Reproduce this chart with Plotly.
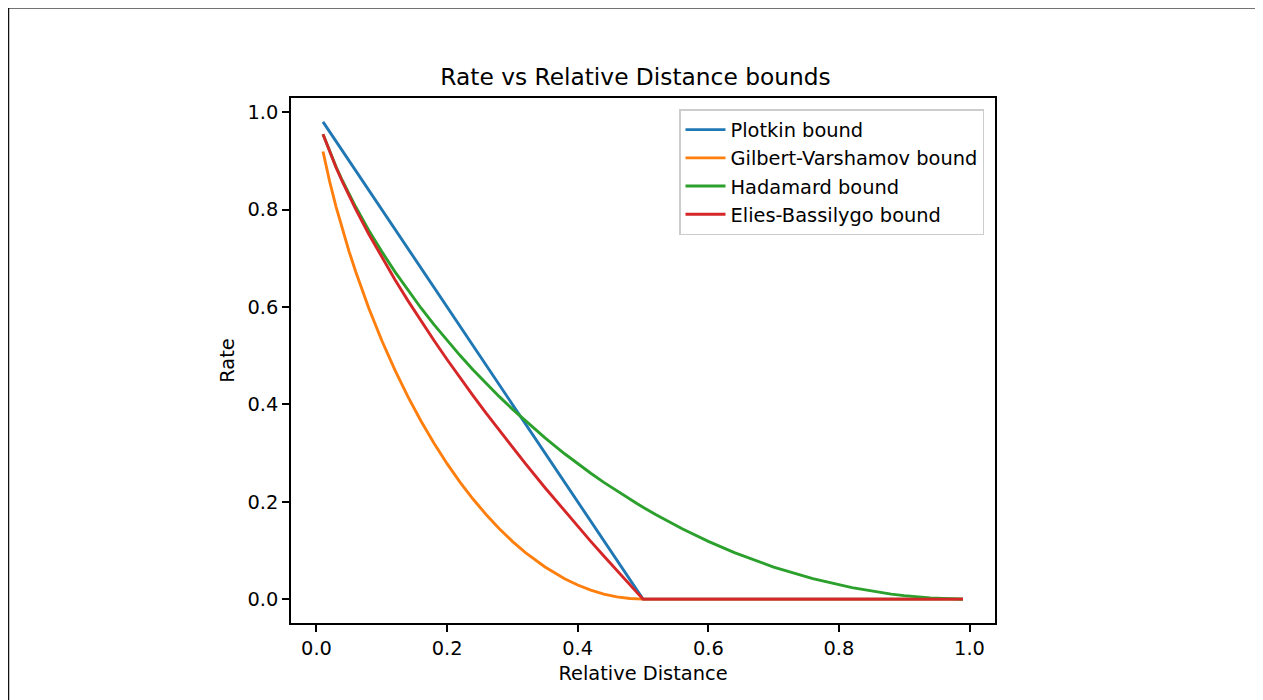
import plotly.graph_objects as go

# Relative distance (x) values
distance = [0.01, 0.02, 0.03, 0.04, 0.05, 0.06, 0.08, 0.10, 0.12, 0.14, 0.16, 0.18, 0.20,
            0.22, 0.24, 0.26, 0.28, 0.30, 0.32, 0.35, 0.38, 0.40, 0.42, 0.44, 0.46, 0.48,
            0.49, 0.50, 0.52, 0.56, 0.60, 0.64, 0.70, 0.76, 0.80, 0.82, 0.88, 0.90, 0.94, 0.99]

plotkin = [0.98, 0.96, 0.94, 0.92, 0.90, 0.88, 0.84, 0.80, 0.76, 0.72, 0.68, 0.64, 0.60,
           0.56, 0.52, 0.48, 0.44, 0.40, 0.36, 0.30, 0.24, 0.20, 0.16, 0.12, 0.08, 0.04,
           0.02, 0.0, 0.0, 0.0, 0.0, 0.0, 0.0, 0.0, 0.0, 0.0, 0.0, 0.0, 0.0, 0.0]

gilbert_varshamov = [0.9192, 0.8586, 0.8056, 0.7577, 0.7136, 0.6726, 0.5978, 0.5310, 0.4706,
                     0.4158, 0.3657, 0.3199, 0.2781, 0.2398, 0.2050, 0.1733, 0.1445, 0.1187,
                     0.0956, 0.0659, 0.0420, 0.0290, 0.0185, 0.0104, 0.0046, 0.0012, 0.0003,
                     0.0, 0.0, 0.0, 0.0, 0.0, 0.0, 0.0, 0.0, 0.0, 0.0, 0.0, 0.0, 0.0]

hadamard = [0.9546, 0.9192, 0.8876, 0.8586, 0.8313, 0.8056, 0.7577, 0.7136, 0.6726, 0.6341,
            0.5978, 0.5635, 0.5310, 0.5001, 0.4706, 0.4426, 0.4158, 0.3902, 0.3657, 0.3310,
            0.2985, 0.2781, 0.2585, 0.2398, 0.2220, 0.2050, 0.1967, 0.1887, 0.1733, 0.1445,
            0.1187, 0.0956, 0.0659, 0.0420, 0.0290, 0.0235, 0.0104, 0.0072, 0.0026, 0.0001]

elias_bassalygo = [0.9544, 0.9185, 0.8862, 0.8562, 0.8279, 0.8008, 0.7497, 0.7018, 0.6564,
                   0.6130, 0.5713, 0.5310, 0.4920, 0.4541, 0.4172, 0.3812, 0.3461, 0.3117,
                   0.2781, 0.2288, 0.1808, 0.1495, 0.1187, 0.0884, 0.0585, 0.0290, 0.0145,
                   0.0, 0.0, 0.0, 0.0, 0.0, 0.0, 0.0, 0.0, 0.0, 0.0, 0.0, 0.0, 0.0]

series_names = ["Plotkin bound", "Gilbert-Varshamov bound", "Hadamard bound", "Elies-Bassilygo bound"]
series_values = [plotkin, gilbert_varshamov, hadamard, elias_bassalygo]
colors = ["#1f77b4", "#ff7f0e", "#2ca02c", "#d62728"]
x_ticks = [0.0, 0.2, 0.4, 0.6, 0.8, 1.0]
y_ticks = [0.0, 0.2, 0.4, 0.6, 0.8, 1.0]

FONT = "DejaVu Sans"
fs = 19.4

fig = go.Figure()
for name, vals, col in zip(series_names, series_values, colors):
    fig.add_trace(go.Scatter(x=distance, y=vals, mode="lines", name=name,
                             line=dict(color=col, width=2.9)))

OFF = 8  # page body margin
W, H = 1255, 692
L, R, T, B = 291 - OFF, 268, 98 - OFF, 77
pw, ph = W - L - R, H - T - B

def px_x(p):
    return (p - OFF - L) / pw

def px_y(p):
    return (H + OFF - B - p) / ph

fig.update_layout(
    width=W, height=H,
    margin=dict(l=L, r=R, t=T, b=B, autoexpand=False),
    paper_bgcolor="white", plot_bgcolor="white",
    font=dict(family=FONT, size=fs, color="#000000"),
    title=dict(text="Rate vs Relative Distance bounds", x=px_x(643), xanchor="center",
               y=1 - (77 - OFF) / H, yanchor="middle", font=dict(size=23.3, family=FONT)),
    xaxis=dict(range=[-0.039, 1.039], tickvals=x_ticks, ticktext=[f"{v:.1f}" for v in x_ticks],
               showgrid=False, zeroline=False, showline=True, linecolor="#000", linewidth=1.5,
               mirror=True, ticks="outside", ticklen=7, tickwidth=1.5, tickcolor="#000",
               tickfont=dict(size=fs), title=dict(text="Relative Distance", standoff=7,
                                                   font=dict(size=fs))),
    yaxis=dict(range=[-0.049, 1.029], tickvals=y_ticks, ticktext=[f"{v:.1f}" for v in y_ticks],
               showgrid=False, zeroline=False, showline=True, linecolor="#000", linewidth=1.5,
               mirror=True, ticks="outside", ticklen=7, tickwidth=1.5, tickcolor="#000",
               tickfont=dict(size=fs), title=dict(text="Rate", standoff=8,
                                                   font=dict(size=fs))),
    legend=dict(x=px_x(984), y=px_y(109), xanchor="right", yanchor="top",
                bgcolor="rgba(255,255,255,0.8)", bordercolor="#cccccc", borderwidth=1.5,
                font=dict(size=fs, family=FONT), itemwidth=40, tracegroupgap=0),
    showlegend=True,
)

# outer frame lines (top and left) of the screenshot
fig.add_shape(type="line", xref="paper", yref="paper", x0=px_x(8), x1=px_x(1263),
              y0=px_y(8), y1=px_y(8), line=dict(color="#444444", width=1.5))
fig.add_shape(type="line", xref="paper", yref="paper", x0=px_x(8.5), x1=px_x(8.5),
              y0=px_y(8), y1=px_y(700), line=dict(color="#111111", width=1.5))

fig.write_html("out.html")
